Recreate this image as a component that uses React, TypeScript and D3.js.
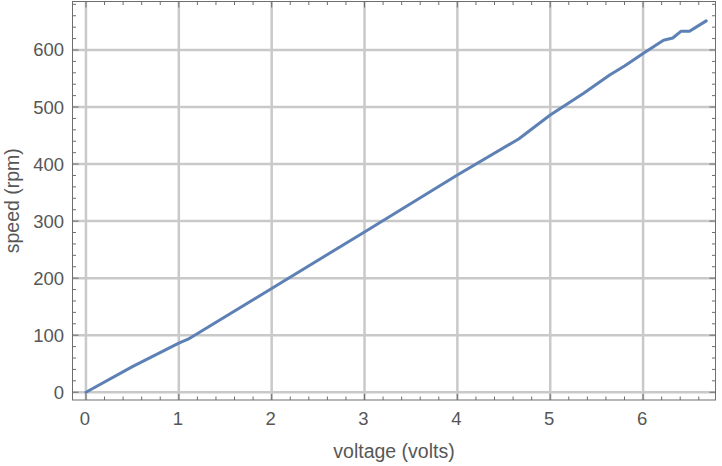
import React from "react";
import * as d3 from "d3";

const voltage = [0, 0.5, 1.0, 1.1, 2, 3, 4, 4.66, 5.0, 5.36, 5.64, 5.8, 6.0, 6.22, 6.32, 6.41, 6.5, 6.58, 6.68];
const speed = [0, 45, 86, 93, 182, 281, 381, 444, 486, 524, 556, 572, 594, 617, 621, 633, 633, 641, 651];
const xTicks = [0, 1, 2, 3, 4, 5, 6];
const yTicks = [0, 100, 200, 300, 400, 500, 600];

const W = 722;
const H = 466;
const L = 72.5, R = 715.5, T = 1.5, B = 400;

export default function App() {
  const x = d3.scaleLinear().domain([-0.145, 6.78]).range([L, R]);
  const y = d3.scaleLinear().domain([-13.6, 685]).range([B, T]);
  const line = d3.line<number>().x((_, i) => x(voltage[i])).y((d) => y(d));
  const xMinor = d3.range(-0.2, 6.81, 0.2).map((v) => Math.round(v * 10) / 10).filter((v) => v >= -0.145 && v <= 6.78 && Math.abs(v - Math.round(v)) > 1e-6);
  const yMinor = d3.range(-20, 690, 20).filter((v) => v >= -13.6 && v <= 685 && v % 100 !== 0);
  const tc = "#6e6e6e";
  const font = "'Liberation Sans', Arial, Helvetica, sans-serif";
  const txt = "#575757";
  return (
    <svg width={W} height={H} style={{ position: "absolute", left: 0, top: 0, background: "#fff" }}>
      <g>
        {xTicks.map((t) => (
          <line key={"gx" + t} x1={x(t)} x2={x(t)} y1={T} y2={B} stroke="#c9c9c9" strokeWidth={2.5} />
        ))}
        {yTicks.map((t) => (
          <line key={"gy" + t} x1={L} x2={R} y1={y(t)} y2={y(t)} stroke="#c9c9c9" strokeWidth={2.5} />
        ))}
      </g>
      <path d={line(speed) || ""} fill="none" stroke="#5e81b5" strokeWidth={3} strokeLinejoin="round" strokeLinecap="round" />
      <g stroke={tc} strokeWidth={1}>
        {xTicks.map((t) => (
          <g key={"tx" + t}>
            <line x1={x(t)} x2={x(t)} y1={B} y2={B - 6} />
            <line x1={x(t)} x2={x(t)} y1={T} y2={T + 6} />
          </g>
        ))}
        {xMinor.map((t) => (
          <g key={"mx" + t}>
            <line x1={x(t)} x2={x(t)} y1={B} y2={B - 3.5} />
            <line x1={x(t)} x2={x(t)} y1={T} y2={T + 3.5} />
          </g>
        ))}
        {yTicks.map((t) => (
          <g key={"ty" + t}>
            <line x1={L} x2={L + 6} y1={y(t)} y2={y(t)} />
            <line x1={R} x2={R - 6} y1={y(t)} y2={y(t)} />
          </g>
        ))}
        {yMinor.map((t) => (
          <g key={"my" + t}>
            <line x1={L} x2={L + 3.5} y1={y(t)} y2={y(t)} />
            <line x1={R} x2={R - 3.5} y1={y(t)} y2={y(t)} />
          </g>
        ))}
        <rect x={L} y={T} width={R - L} height={B - T} fill="none" />
      </g>
      <g fill={txt} fontFamily={font} fontSize={18.5}>
        {xTicks.map((t) => (
          <text key={"lx" + t} x={x(t) - 1} y={424.5} textAnchor="middle">{t}</text>
        ))}
        {yTicks.map((t) => (
          <text key={"ly" + t} x={64} y={y(t)} dy="0.35em" textAnchor="end">{t}</text>
        ))}
        <text x={(L + R) / 2} y={458} textAnchor="middle" fontSize={19.5}>voltage (volts)</text>
        <text transform={`translate(18.5,${(T + B) / 2}) rotate(-90)`} textAnchor="middle" fontSize={19.5}>speed (rpm)</text>
      </g>
    </svg>
  );
}
